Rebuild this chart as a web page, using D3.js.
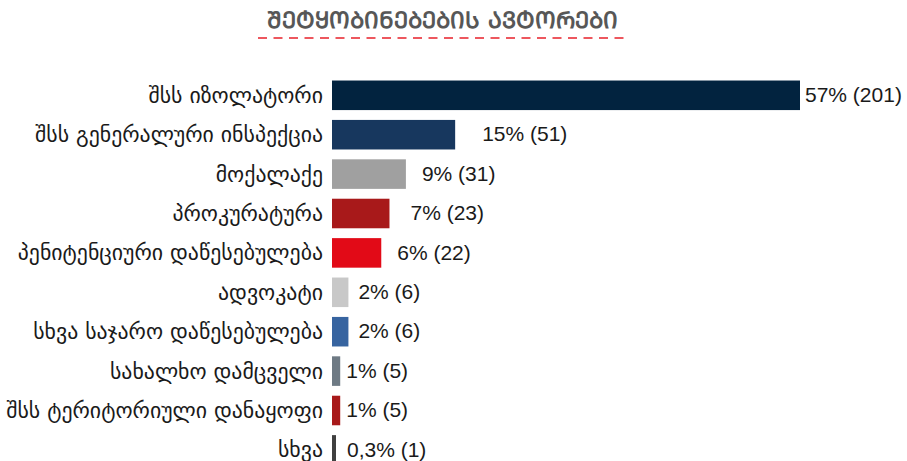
<!DOCTYPE html>
<html>
<head>
<meta charset="utf-8">
<script src="https://cdn.jsdelivr.net/npm/d3@7"></script>
<style>
  html, body { margin: 0; padding: 0; background: #fff; }
  svg { display: block; }
</style>
</head>
<body>
<script>
const titleText = "ᲨᲔᲢᲧᲝᲑᲘᲜᲔᲑᲔᲑᲘᲡ ᲐᲕᲢᲝᲠᲔᲑᲘ";
const categories = [
  "შსს იზოლატორი",
  "შსს გენერალური ინსპექცია",
  "მოქალაქე",
  "პროკურატურა",
  "პენიტენციური დაწესებულება",
  "ადვოკატი",
  "სხვა საჯარო დაწესებულება",
  "სახალხო დამცველი",
  "შსს ტერიტორიული დანაყოფი",
  "სხვა"
];
const percents = [57, 15, 9, 7, 6, 2, 2, 1, 1, 0.3];
const counts = [201, 51, 31, 23, 22, 6, 6, 5, 5, 1];
const percentLabels = ["57%", "15%", "9%", "7%", "6%", "2%", "2%", "1%", "1%", "0,3%"];
const colors = ["#02233f", "#17375e", "#a0a0a0", "#a8191a", "#e20a17", "#c8c8c8", "#3764a0", "#6e7a84", "#a8191a", "#404040"];
const labelGap = [5, 27, 16, 21, 16, 10, 10, 6, 6, 11];

const W = 907, H = 461;
const svg = d3.select("body").append("svg").attr("width", W).attr("height", H);

const x = d3.scaleLinear().domain([0, 57]).range([332, 800]);
const y = d3.scaleBand().domain(categories).range([75.6, 469.6]).paddingInner(0.25).paddingOuter(0.125);

// title
svg.append("text")
  .attr("x", 443).attr("y", 28)
  .attr("text-anchor", "middle")
  .attr("font-family", "DejaVu Sans, sans-serif")
  .attr("font-weight", "bold")
  .attr("font-size", 23)
  .attr("fill", "#575757")
  .text(titleText);
svg.append("line")
  .attr("x1", 258).attr("x2", 628).attr("y1", 38).attr("y2", 38)
  .attr("stroke", "#e8202a").attr("stroke-width", 1.6)
  .attr("stroke-dasharray", "9,6.5");

const rows = svg.append("g").selectAll("g").data(categories).join("g");

rows.append("rect")
  .attr("x", x(0))
  .attr("y", d => y(d))
  .attr("width", (d, i) => Math.max(4, x(percents[i]) - x(0)))
  .attr("height", y.bandwidth())
  .attr("fill", (d, i) => colors[i]);

rows.append("text")
  .attr("x", 323)
  .attr("y", d => y(d) + y.bandwidth() / 2 + 7.5)
  .attr("text-anchor", "end")
  .attr("font-family", "DejaVu Sans, sans-serif")
  .attr("font-size", 21.8)
  .attr("fill", "#1a1a1a")
  .text(d => d);

rows.append("text")
  .attr("x", (d, i) => Math.max(x(percents[i]), x(0) + 4) + labelGap[i])
  .attr("y", d => y(d) + y.bandwidth() / 2)
  .attr("dy", "0.32em")
  .attr("font-family", "Liberation Sans, Arial, sans-serif")
  .attr("font-size", 21)
  .attr("fill", "#1a1a1a")
  .text((d, i) => `${percentLabels[i]} (${counts[i]})`);
</script>
</body>
</html>
